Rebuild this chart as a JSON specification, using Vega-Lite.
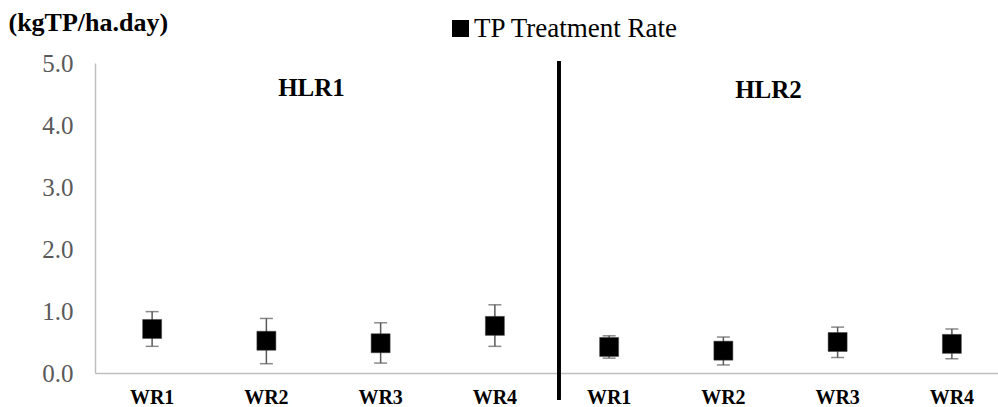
{
  "$schema": "https://vega.github.io/schema/vega-lite/v6.json",
  "autosize": {"type": "none"},
  "padding": {"left": 95, "top": 63, "right": 0, "bottom": 34},
  "width": 903,
  "height": 310,
  "background": "white",
  "config": {
    "view": {"stroke": null},
    "axis": {"grid": false, "labelFont": "Liberation Serif", "titleFont": "Liberation Serif"},
    "legend": {"labelFont": "Liberation Serif"},
    "font": "Liberation Serif"
  },
  "data": {
    "values": [
      {"hlr": "HLR1", "wr": "WR1", "key": "HLR1|WR1", "mean": 0.71, "lo": 0.43, "hi": 0.99},
      {"hlr": "HLR1", "wr": "WR2", "key": "HLR1|WR2", "mean": 0.52, "lo": 0.15, "hi": 0.88},
      {"hlr": "HLR1", "wr": "WR3", "key": "HLR1|WR3", "mean": 0.48, "lo": 0.16, "hi": 0.81},
      {"hlr": "HLR1", "wr": "WR4", "key": "HLR1|WR4", "mean": 0.76, "lo": 0.43, "hi": 1.10},
      {"hlr": "HLR2", "wr": "WR1", "key": "HLR2|WR1", "mean": 0.42, "lo": 0.24, "hi": 0.60},
      {"hlr": "HLR2", "wr": "WR2", "key": "HLR2|WR2", "mean": 0.36, "lo": 0.13, "hi": 0.58},
      {"hlr": "HLR2", "wr": "WR3", "key": "HLR2|WR3", "mean": 0.50, "lo": 0.25, "hi": 0.74},
      {"hlr": "HLR2", "wr": "WR4", "key": "HLR2|WR4", "mean": 0.47, "lo": 0.23, "hi": 0.71}
    ]
  },
  "encoding": {
    "x": {
      "field": "key",
      "type": "nominal",
      "sort": null,
      "scale": {"range": [0, 914], "paddingInner": 0, "paddingOuter": 0},
      "axis": {
        "title": null,
        "labelAngle": 0,
        "ticks": false,
        "domainColor": "#bfbfbf",
        "domainWidth": 1.5,
        "labelExpr": "split(datum.label, '|')[1]",
        "labelFont": "Liberation Serif",
        "labelFontWeight": "bold",
        "labelFontSize": 20,
        "labelColor": "black",
        "labelPadding": 14
      }
    }
  },
  "layer": [
    {
      "mark": {"type": "rule", "color": "#595959", "strokeWidth": 1.5},
      "encoding": {
        "y": {"field": "lo", "type": "quantitative", "title": "(kgTP/ha.day)"},
        "y2": {"field": "hi"}
      }
    },
    {
      "mark": {"type": "tick", "orient": "horizontal", "color": "#595959", "size": 13, "thickness": 1.5},
      "encoding": {
        "y": {"field": "lo", "type": "quantitative", "title": "(kgTP/ha.day)"}
      }
    },
    {
      "mark": {"type": "tick", "orient": "horizontal", "color": "#595959", "size": 13, "thickness": 1.5},
      "encoding": {
        "y": {"field": "hi", "type": "quantitative", "title": "(kgTP/ha.day)"}
      }
    },
    {
      "mark": {"type": "point", "shape": "square", "filled": true, "size": 361, "opacity": 1, "stroke": "#404040", "strokeWidth": 0.5},
      "encoding": {
        "y": {
          "field": "mean",
          "type": "quantitative",
          "title": "(kgTP/ha.day)",
          "scale": {"domain": [0, 5], "nice": false, "zero": true},
          "axis": {
            "values": [0, 1, 2, 3, 4, 5],
            "format": ".1f",
            "ticks": false,
            "domainColor": "#bfbfbf",
            "domainWidth": 1.5,
            "labelFont": "Liberation Serif",
            "labelFontSize": 25,
            "labelColor": "#595959",
            "labelPadding": 22,
            "titleAngle": 0,
            "titleAlign": "left",
            "titleBaseline": "middle",
            "titleX": -87,
            "titleY": -41,
            "titleFont": "Liberation Serif",
            "titleFontSize": 26,
            "titleFontWeight": "bold",
            "titleColor": "black"
          }
        },
        "color": {
          "datum": "TP Treatment Rate",
          "type": "nominal",
          "scale": {"range": ["black"]},
          "legend": {
            "title": null,
            "orient": "none",
            "legendX": 352,
            "legendY": -48,
            "symbolType": "square",
            "symbolSize": 289,
            "symbolFillColor": "black",
            "symbolStrokeWidth": 0,
            "labelFont": "Liberation Serif",
            "labelFontSize": 27,
            "labelColor": "black",
            "labelOffset": 0,
            "labelLimit": 0
          }
        }
      }
    },
    {
      "mark": {"type": "rule", "color": "black", "strokeWidth": 3},
      "encoding": {
        "x": {"datum": "HLR2|WR1", "bandPosition": 0.06},
        "y": {"datum": -0.43},
        "y2": {"datum": 5.03}
      }
    },
    {
      "data": {"values": [
        {"label": "HLR1", "key": "HLR1|WR3", "yv": 4.6},
        {"label": "HLR2", "key": "HLR2|WR3", "yv": 4.57}
      ]},
      "mark": {"type": "text", "font": "Liberation Serif", "fontWeight": "bold", "fontSize": 25, "color": "black", "align": "center", "baseline": "middle", "dx": -12},
      "encoding": {
        "x": {"field": "key", "type": "nominal", "bandPosition": 0},
        "y": {"field": "yv", "type": "quantitative"},
        "text": {"field": "label"}
      }
    }
  ]
}
